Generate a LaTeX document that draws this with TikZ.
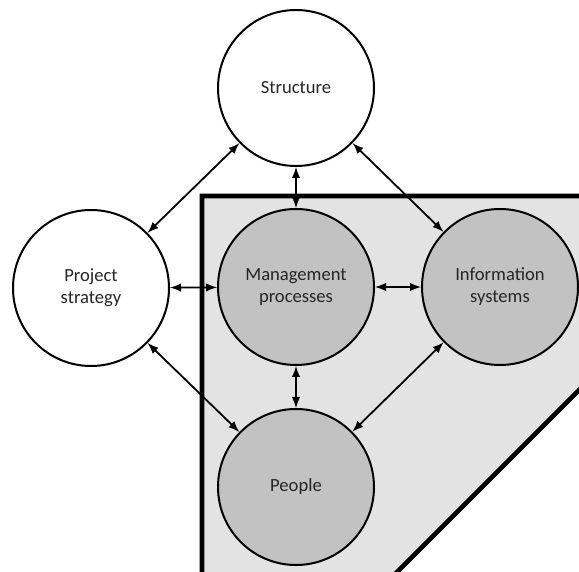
\documentclass[tikz,border=0pt]{standalone}
\usepackage{fontspec}
\setmainfont{Carlito}
\usetikzlibrary{positioning}

\begin{document}
\begin{tikzpicture}[x=0.5pt,y=-0.5pt,
  factor/.style={circle,draw,line width=1pt,minimum size=78pt,inner sep=0pt,
    align=center,text=black!85,font=\fontsize{9.3}{11}\selectfont},
  inner/.style={factor,fill=black!24},
  link/.style={latex-latex,line width=0.9pt}]
\useasboundingbox (0,0) rectangle (579,572);
\clip (0,0) rectangle (579,572);
% shaded area
\filldraw[fill=black!11,line width=2.3pt] (202,196) -- (620,196) -- (620,349) -- (349,620) -- (202,620) -- cycle;
% factors
\node[factor] (struct) at (296,88) {Structure};
\node[factor] (strat) at (91,288) {Project\\strategy};
\node[inner] (mgmt) at (296,287) {Management\\processes};
\node[inner] (info) at (500,287) {Information\\systems};
\node[inner] (people) at (296,487) {People};
% links
\draw[link] (struct) -- (strat);
\draw[link] (struct) -- (mgmt);
\draw[link] (struct) -- (info);
\draw[link] (strat) -- (mgmt);
\draw[link] (strat) -- (people);
\draw[link] (mgmt) -- (info);
\draw[link] (mgmt) -- (people);
\draw[link] (info) -- (people);
\end{tikzpicture}
\end{document}
